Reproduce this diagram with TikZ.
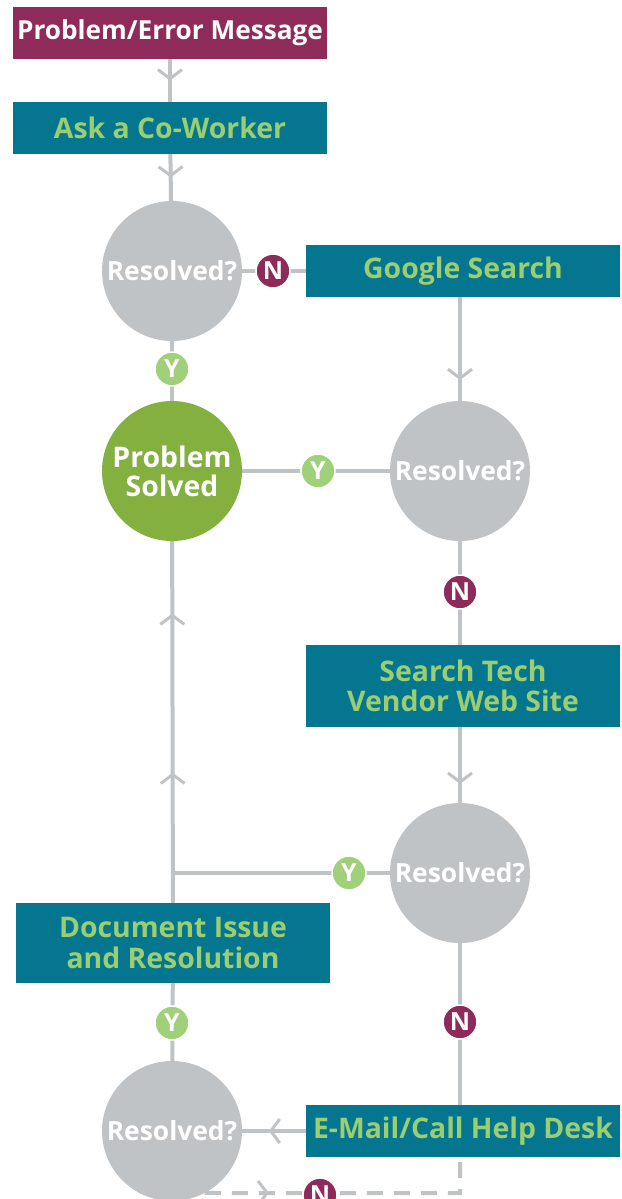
\documentclass[tikz,border=0pt]{standalone}
\usepackage{fontspec}
\setmainfont{Open Sans}
\usetikzlibrary{arrows.meta,decorations.markings}
\definecolor{plum}{RGB}{142,43,90}
\definecolor{deepteal}{RGB}{5,118,143}
\definecolor{leaf}{RGB}{155,206,112}
\definecolor{tagleaf}{RGB}{160,208,122}
\definecolor{solvedgreen}{RGB}{132,176,64}
\definecolor{mist}{RGB}{192,195,198}
\pgfdeclarelayer{bg}
\pgfsetlayers{bg,main}
\tikzset{
  boxfont/.style={font=\bfseries\fontsize{28.5}{30.5}\selectfont},
  stepbox/.style={rectangle, fill=deepteal, text=leaf, boxfont,
    minimum width=314bp, minimum height=52bp, inner sep=0pt, align=center},
  startbox/.style={stepbox, fill=plum, text=white,
    font=\bfseries\fontsize{26.3}{28}\selectfont},
  query/.style={circle, fill=mist, minimum size=140bp, inner sep=0pt,
    text=white, font=\bfseries\fontsize{26.5}{28}\selectfont, align=center},
  done/.style={query, fill=solvedgreen, font=\bfseries\fontsize{28.5}{29}\selectfont},
  tagno/.style={circle, fill=plum, draw=white, line width=1.5bp,
    minimum size=34bp, inner sep=0pt, text=white,
    font=\bfseries\fontsize{25}{25}\selectfont},
  tagyes/.style={tagno, fill=tagleaf},
  flow/.style={draw=mist, line width=4bp},
  chev/.style={postaction={decorate, decoration={markings,
    mark=at position #1 with {\arrow[mist]{Straight Barb[length=9bp, width=24bp, line width=3bp]}}}}},
}
\begin{document}
\begin{tikzpicture}[x=1bp, y=-1bp]
\useasboundingbox (0,0) rectangle (622,1199);
\clip (0,0) rectangle (622,1199);

% step boxes
\node[startbox] (pem)    at (170,33)  {Problem/Error Message};
\node[stepbox]  (ask)    at (170,128) {Ask a Co-Worker};
\node[stepbox]  (google) at (463,271) {Google Search};
\node[stepbox, minimum height=82bp] (search) at (463,686) {Search Tech\\Vendor Web Site};
\node[stepbox, minimum height=80bp] (doc)    at (173,943) {Document Issue\\and Resolution};
\node[stepbox]  (email)  at (463,1131) {E-Mail/Call Help Desk};

% decision circles
\node[query] (r1) at (172,271)  {Resolved?};
\node[done]  (solved) at (172,471) {\raisebox{-4bp}{\parbox{130bp}{\centering Problem\\Solved}}};
\node[query] (r2) at (460,471)  {Resolved?};
\node[query] (r3) at (460,873)  {Resolved?};
\node[query] (r4) at (172,1131) {Resolved?};

% answer tags
\node[tagno]  (n1) at (273,271)  {N};
\node[tagyes] (y1) at (172,369)  {Y};
\node[tagyes] (y2) at (318,471)  {Y};
\node[tagno]  (n2) at (460,592)  {N};
\node[tagyes] (y3) at (349,873)  {Y};
\node[tagyes] (y4) at (172,1023) {Y};
\node[tagno]  (n3) at (460,1022) {N};
\node[tagno]  (n4) at (320,1195) {N};

\coordinate (join) at (solved |- r3);
\coordinate (dcorner) at (460,1193);

\begin{pgfonlayer}{bg}
  \draw[flow, chev=0.5] (pem) -- (ask);
  \draw[flow, chev=0.5] (ask) -- (r1);
  \draw[flow] (r1) -- (google);
  \draw[flow] (r1) -- (solved);
  \draw[flow, chev=0.8] (google.south -| r2) -- (r2);
  \draw[flow] (r2) -- (solved);
  \draw[flow] (r2) -- (search.north -| r2);
  \draw[flow, chev=0.75] (search.south -| r3) -- (r3);
  \draw[flow] (r3) -- (join);
  \draw[flow, chev=0.36, chev=0.8] (doc) -- (solved);
  \draw[flow] (r3) -- (email.north -| r3);
  \draw[flow] (r4) -- (doc);
  \draw[flow, chev=0.58] (email) -- (r4);
  \draw[flow, dash pattern=on 16bp off 11bp, chev=0.22]
    (r4.-62) -- (dcorner) -- (email.south -| r3);
\end{pgfonlayer}
\end{tikzpicture}
\end{document}
